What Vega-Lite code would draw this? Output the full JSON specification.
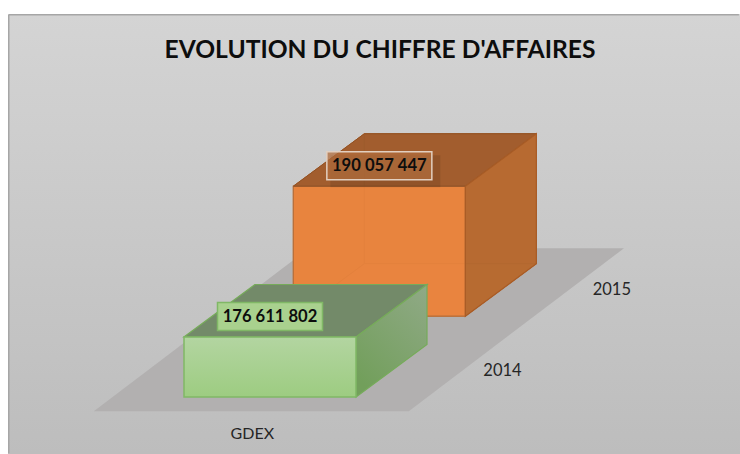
{
"$schema":"https://vega.github.io/schema/vega-lite/v6.json",
"autosize":{"type":"fit","contains":"padding"},
"width":740,"height":454,
"padding":{"left":8,"top":14,"right":0,"bottom":0},
"background":"white",
"config":{"view":{"stroke":null,"fill":{"x1":0,"y1":0,"x2":0,"y2":1,"gradient":"linear","stops":[{"offset":0,"color":"#d4d4d4"},{"offset":1,"color":"#bdbdbd"}]}}},
"title":{"text":"EVOLUTION DU CHIFFRE D'AFFAIRES","font":"Lato","fontSize":24.6,"fontWeight":"bold","color":"#0d0d0d","anchor":"middle","offset":-50,"dx":6},
"data":{"values":[{"categorie":"GDEX","annee":"2014","valeur":176611802},{"categorie":"GDEX","annee":"2015","valeur":190057447}]},
"transform":[
{"calculate":"datum.annee==='2014'?0:1.54","as":"z"},
{"calculate":"165086000","as":"base"}
],
"encoding":{
"x":{"field":"x","type":"quantitative","axis":null,"scale":{"domain":[-1.0233,3.2326],"zero":false,"nice":false}},
"y":{"field":"y","type":"quantitative","axis":null,"scale":{"domain":[154137000,238655000],"zero":false,"nice":false}}
},
"layer":[
{"transform":[{"filter":"datum.annee==='2014'"},{"calculate":"-1.0189","as":"x"},{"calculate":"154300000","as":"y"},{"calculate":"238505000","as":"y2"}],
"mark":{"type":"rule","stroke":"#a6a6a6","strokeWidth":1.5},"encoding":{"y2":{"field":"y2"}}},
{"transform":[{"filter":"datum.annee==='2014'"},{"calculate":"-1.0189","as":"x"},{"calculate":"3.226","as":"x2"},{"calculate":"238505000","as":"y"}],
"mark":{"type":"rule","stroke":"#a6a6a6","strokeWidth":1.5},"encoding":{"x2":{"field":"x2"}}},

{"transform":[{"filter":"datum.annee==='2014'"},{"calculate":"[-0.27,2.835]","as":"p"},{"flatten":["p"]},{"calculate":"-0.5245+(datum.p+0.27)*0.403","as":"x"},{"calculate":"1.307+(datum.p+0.27)*0.403","as":"x2"},{"calculate":"datum.base+datum.p*10080000","as":"y"}],
"mark":{"type":"area","orient":"horizontal","fill":"#b2b0b0"},"encoding":{"x2":{"field":"x2"}}},

{"transform":[{"filter":"datum.annee==='2015'"},{"calculate":"[0,1]","as":"p"},{"flatten":["p"]},{"calculate":"(datum.z+datum.p)*0.4128","as":"x"},{"calculate":"datum.base+(datum.z+datum.p)*10080000","as":"y"},{"calculate":"datum.valeur+(datum.z+datum.p)*10080000","as":"y2"}],
"mark":{"type":"area","orient":"vertical","fill":"#e07f3c","stroke":"#c4672a","strokeWidth":1},"encoding":{"y2":{"field":"y2"}}},
{"transform":[{"filter":"datum.annee==='2015'"},{"calculate":"[0,1]","as":"p"},{"flatten":["p"]},{"calculate":"(datum.z+1)*0.4128+datum.p","as":"x"},{"calculate":"datum.base+(datum.z+1)*10080000","as":"y"},{"calculate":"datum.valeur+(datum.z+1)*10080000","as":"y2"}],
"mark":{"type":"area","orient":"vertical","fill":"#e07f3c","stroke":"#c4672a","strokeWidth":1},"encoding":{"y2":{"field":"y2"}}},
{"transform":[{"filter":"datum.annee==='2015'"},{"calculate":"[0,1]","as":"p"},{"flatten":["p"]},{"calculate":"(datum.z+datum.p)*0.4128","as":"x"},{"calculate":"1+(datum.z+datum.p)*0.4128","as":"x2"},{"calculate":"datum.base+(datum.z+datum.p)*10080000","as":"y"}],
"mark":{"type":"area","orient":"horizontal","fill":"#e5833f","stroke":"#c4672a","strokeWidth":1},"encoding":{"x2":{"field":"x2"}}},
{"transform":[{"filter":"datum.annee==='2015'"},{"calculate":"[0,1]","as":"p"},{"flatten":["p"]},{"calculate":"datum.z*0.4128+datum.p","as":"x"},{"calculate":"datum.base+datum.z*10080000","as":"y"},{"calculate":"datum.valeur+datum.z*10080000","as":"y2"}],
"mark":{"type":"area","orient":"vertical","fill":"#e9853f","fillOpacity":0.86,"stroke":"#b8703c","strokeWidth":1.2},"encoding":{"y2":{"field":"y2"}}},
{"transform":[{"filter":"datum.annee==='2015'"},{"calculate":"[0,1]","as":"p"},{"flatten":["p"]},{"calculate":"(datum.z+datum.p)*0.4128","as":"x"},{"calculate":"1+(datum.z+datum.p)*0.4128","as":"x2"},{"calculate":"datum.valeur+(datum.z+datum.p)*10080000","as":"y"}],
"mark":{"type":"area","orient":"horizontal","fill":"#98592c","fillOpacity":0.88,"stroke":"#8f5226","strokeWidth":1},"encoding":{"x2":{"field":"x2"}}},
{"transform":[{"filter":"datum.annee==='2015'"},{"calculate":"[0,1]","as":"p"},{"flatten":["p"]},{"calculate":"1+(datum.z+datum.p)*0.4128","as":"x"},{"calculate":"datum.base+(datum.z+datum.p)*10080000","as":"y"},{"calculate":"datum.valeur+(datum.z+datum.p)*10080000","as":"y2"}],
"mark":{"type":"area","orient":"vertical","fill":"#b06830","fillOpacity":0.88,"stroke":"#a85c26","strokeWidth":1.2},"encoding":{"y2":{"field":"y2"}}},

{"transform":[{"filter":"datum.annee==='2014'"},{"calculate":"[0,1]","as":"p"},{"flatten":["p"]},{"calculate":"(datum.z+datum.p)*0.4128","as":"x"},{"calculate":"1+(datum.z+datum.p)*0.4128","as":"x2"},{"calculate":"datum.valeur+(datum.z+datum.p)*10080000","as":"y"}],
"mark":{"type":"area","orient":"horizontal","fill":"#738a69","stroke":"#76ab5a","strokeWidth":1.2},"encoding":{"x2":{"field":"x2"}}},
{"transform":[{"filter":"datum.annee==='2014'"},{"calculate":"[0,1]","as":"p"},{"flatten":["p"]},{"calculate":"1+(datum.z+datum.p)*0.4128","as":"x"},{"calculate":"datum.base+(datum.z+datum.p)*10080000","as":"y"},{"calculate":"datum.valeur+(datum.z+datum.p)*10080000","as":"y2"}],
"mark":{"type":"area","orient":"vertical","stroke":"#76ab5a","strokeWidth":1.2,"fill":{"x1":0.9,"y1":0,"x2":0.3,"y2":1,"gradient":"linear","stops":[{"offset":0,"color":"#8fa985"},{"offset":1,"color":"#729f5b"}]}},"encoding":{"y2":{"field":"y2"}}},
{"transform":[{"filter":"datum.annee==='2014'"},{"calculate":"[0,1]","as":"p"},{"flatten":["p"]},{"calculate":"datum.z*0.4128+datum.p","as":"x"},{"calculate":"datum.base+datum.z*10080000","as":"y"},{"calculate":"datum.valeur+datum.z*10080000","as":"y2"}],
"mark":{"type":"area","orient":"vertical","stroke":"#80b866","strokeWidth":1.5,"fill":{"x1":0,"y1":0,"x2":0,"y2":1,"gradient":"linear","stops":[{"offset":0,"color":"#b3d5a1"},{"offset":1,"color":"#9dcc81"}]}},"encoding":{"y2":{"field":"y2"}}},

{"transform":[{"filter":"datum.annee==='2015'"},{"calculate":"0.5+datum.z*0.4128","as":"x"},{"calculate":"datum.valeur+datum.z*10080000","as":"y"}],
"mark":{"type":"rect","width":110,"height":32,"xOffset":6,"yOffset":-15,"fill":"#000000","fillOpacity":0.1}},
{"transform":[{"calculate":"0.5+datum.z*0.4128","as":"x"},{"calculate":"datum.valeur+datum.z*10080000","as":"y"}],
"mark":{"type":"rect","width":105,"height":28,"yOffset":-20.5,"strokeWidth":1.5},
"encoding":{
"fill":{"condition":{"test":"datum.annee==='2014'","value":"#a9d18e"},"value":"#b06c3c"},
"fillOpacity":{"condition":{"test":"datum.annee==='2014'","value":1},"value":0.75},
"stroke":{"condition":{"test":"datum.annee==='2014'","value":"#80b866"},"value":"#e2cfc0"}}},
{"transform":[{"calculate":"0.5+datum.z*0.4128","as":"x"},{"calculate":"datum.valeur+datum.z*10080000","as":"y"},{"calculate":"replace(format(datum.valeur,',d'),/,/g,' ')","as":"etiquette"}],
"mark":{"type":"text","font":"Lato","fontSize":16.6,"fontWeight":"bold","color":"#0d0d0d","dy":-20,"align":"center","baseline":"middle"},
"encoding":{"text":{"field":"etiquette"}}},

{"transform":[{"filter":"datum.annee==='2014'"},{"calculate":"0.5-0.27*0.4128","as":"x"},{"calculate":"datum.base-0.27*10080000","as":"y"}],
"mark":{"type":"text","font":"Lato","fontSize":16,"color":"#262626","dx":1.5,"dy":23,"align":"center","baseline":"middle"},
"encoding":{"text":{"field":"categorie"}}},
{"transform":[{"calculate":"1.4186+(datum.z+0.5)*0.4128","as":"x"},{"calculate":"datum.base+(datum.z+0.5)*10080000","as":"y"}],
"mark":{"type":"text","font":"Lato","fontSize":16.5,"color":"#262626","dx":39,"align":"center","baseline":"middle"},
"encoding":{"text":{"field":"annee"}}}
]
}
